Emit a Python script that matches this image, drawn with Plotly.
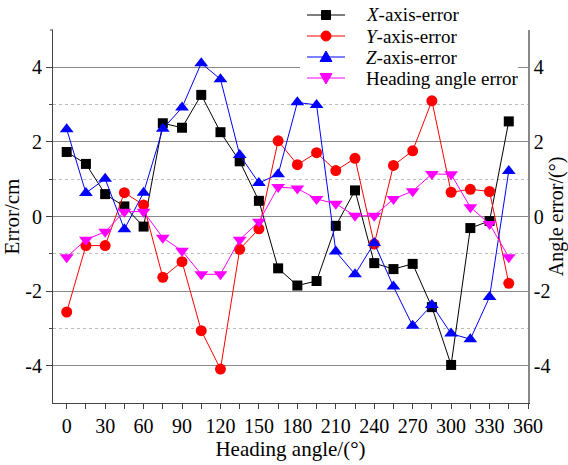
import plotly.graph_objects as go

heading = [0, 15, 30, 45, 60, 75, 90, 105, 120, 135, 150, 165, 180, 195, 210, 225,
           240, 255, 270, 285, 300, 315, 330, 345]
x_err = [1.73, 1.41, 0.60, 0.27, -0.27, 2.50, 2.38, 3.26, 2.26, 1.48, 0.42, -1.39,
         -1.85, -1.73, -0.25, 0.70, -1.25, -1.41, -1.27, -2.43, -3.98, -0.31, -0.12, 2.55]
y_err = [-2.56, -0.78, -0.78, 0.64, 0.31, -1.63, -1.21, -3.06, -4.09, -0.88, -0.33, 2.03,
         1.39, 1.71, 1.23, 1.56, -0.74, 1.37, 1.76, 3.10, 0.65, 0.73, 0.67, -1.79]
z_err = [2.34, 0.63, 1.01, -0.34, 0.64, 2.35, 2.92, 4.11, 3.68, 1.65, 0.90, 1.13,
         3.06, 2.99, -0.94, -1.55, -0.71, -1.88, -2.93, -2.37, -3.14, -3.29, -2.16, 1.22]
ang_err = [-1.09, -0.62, -0.41, 0.13, 0.13, -0.57, -0.92, -1.55, -1.55, -0.62, -0.14, 0.79,
           0.75, 0.47, 0.34, 0.02, 0.02, 0.47, 0.68, 1.14, 1.13, 0.25, -0.20, -1.09]

names = ["<i>X</i>-axis-error", "<i>Y</i>-axis-error", "<i>Z</i>-axis-error", "Heading angle error"]
x_ticks = [0, 30, 60, 90, 120, 150, 180, 210, 240, 270, 300, 330, 360]
y_ticks = [-4, -2, 0, 2, 4]

FONT = "Liberation Serif, Times New Roman, serif"
W, H = 568, 465
ML, MR, MT, MB = 53, 40, 30, 62
PW, PH = W - ML - MR, H - MT - MB


def px(xp):
    return (xp - ML) / PW


def py(yp):
    return (H - MB - yp) / PH


styles = [
    dict(color="black", symbol="square"),
    dict(color="red", symbol="circle"),
    dict(color="blue", symbol="triangle-up"),
    dict(color="magenta", symbol="triangle-down"),
]
series = [x_err, y_err, z_err, ang_err]
msize = {"square": 10, "circle": 11, "triangle-up": 12, "triangle-down": 12}

fig = go.Figure()
for i, (vals, st) in enumerate(zip(series, styles)):
    fig.add_trace(go.Scatter(
        x=heading, y=vals, name=names[i], mode="lines+markers",
        yaxis="y2" if i == 3 else "y",
        line=dict(color=st["color"], width=1),
        marker=dict(symbol=st["symbol"], size=msize[st["symbol"]], color=st["color"]),
        showlegend=False))

# custom legend (compact row spacing like the reference)
shapes = [dict(type="rect", xref="paper", yref="paper", x0=px(300), x1=px(518),
               y0=py(92), y1=py(2), fillcolor="white", line=dict(width=0), layer="above")]
annotations = []
rows = [15, 36, 57, 78]
for i, st in enumerate(styles):
    yc = py(rows[i])
    shapes.append(dict(type="line", xref="paper", yref="paper", x0=px(307), x1=px(345),
                       y0=yc, y1=yc, line=dict(color=st["color"], width=1), layer="above"))
    common = dict(xref="paper", yref="paper", xsizemode="pixel", ysizemode="pixel",
                  xanchor=px(326), yanchor=yc, fillcolor=st["color"],
                  line=dict(color=st["color"], width=1), layer="above")
    if st["symbol"] == "square":
        shapes.append(dict(type="rect", x0=-4.5, x1=4.5, y0=-4.5, y1=4.5, **common))
    elif st["symbol"] == "circle":
        shapes.append(dict(type="circle", x0=-5, x1=5, y0=-5, y1=5, **common))
    elif st["symbol"] == "triangle-up":
        shapes.append(dict(type="path", path="M -6,-4.5 L 6,-4.5 L 0,6 Z", **common))
    else:
        shapes.append(dict(type="path", path="M -6,4.5 L 6,4.5 L 0,-6 Z", **common))
    annotations.append(dict(xref="paper", yref="paper", x=px(364), y=yc, text=names[i],
                            showarrow=False, xanchor="left", yanchor="middle",
                            font=dict(size=19, family=FONT, color="black")))

# short tick at the top end of the left axis
shapes.append(dict(type="line", xref="paper", yref="paper", x0=px(ML - 3), x1=px(ML),
                   y0=1, y1=1, line=dict(color="#444", width=1), layer="above"))

fig.update_layout(
    width=W, height=H,
    margin=dict(l=ML, r=MR, t=MT, b=MB, autoexpand=False),
    paper_bgcolor="white", plot_bgcolor="white",
    font=dict(family=FONT, size=20, color="black"),
    showlegend=False,
    shapes=shapes, annotations=annotations,
    xaxis=dict(range=[-10.7, 360], tickvals=x_ticks, ticktext=[str(v) for v in x_ticks],
               showgrid=False, zeroline=False, showline=True, linecolor="#444",
               linewidth=1, ticks="outside", ticklen=5, tickcolor="#444",
               minor=dict(tickvals=[v + 15 for v in x_ticks[:-1]], ticks="outside",
                          ticklen=5, tickcolor="#444", showgrid=False),
               title=dict(text="Heading angle/(°)", font=dict(size=21), standoff=3)),
    yaxis=dict(range=[-5, 5], tickvals=y_ticks, ticktext=[str(v) for v in y_ticks],
               showgrid=True, gridcolor="#8a8a8a", gridwidth=1, zeroline=False,
               showline=True, linecolor="#444", linewidth=1,
               ticks="outside", ticklen=6, tickcolor="#444",
               minor=dict(tickvals=[-3, -1, 1, 3], ticks="outside", ticklen=3,
                          tickcolor="#444", showgrid=True, gridcolor="#bbbbbb",
                          griddash="dot", gridwidth=1),
               title=dict(text="Error/cm", font=dict(size=21), standoff=4)),
    yaxis2=dict(range=[-5, 5], tickvals=y_ticks, ticktext=[str(v) for v in y_ticks],
                overlaying="y", side="right", showgrid=False, zeroline=False,
                showline=True, linecolor="#888", linewidth=1.5, ticks="",
                title=dict(text="Angle error/(°)", font=dict(size=20), standoff=5)),
)

fig.write_html("out.html", config={"displayModeBar": False},
               post_script="document.body.style.margin='0';document.body.style.overflow='hidden';")
